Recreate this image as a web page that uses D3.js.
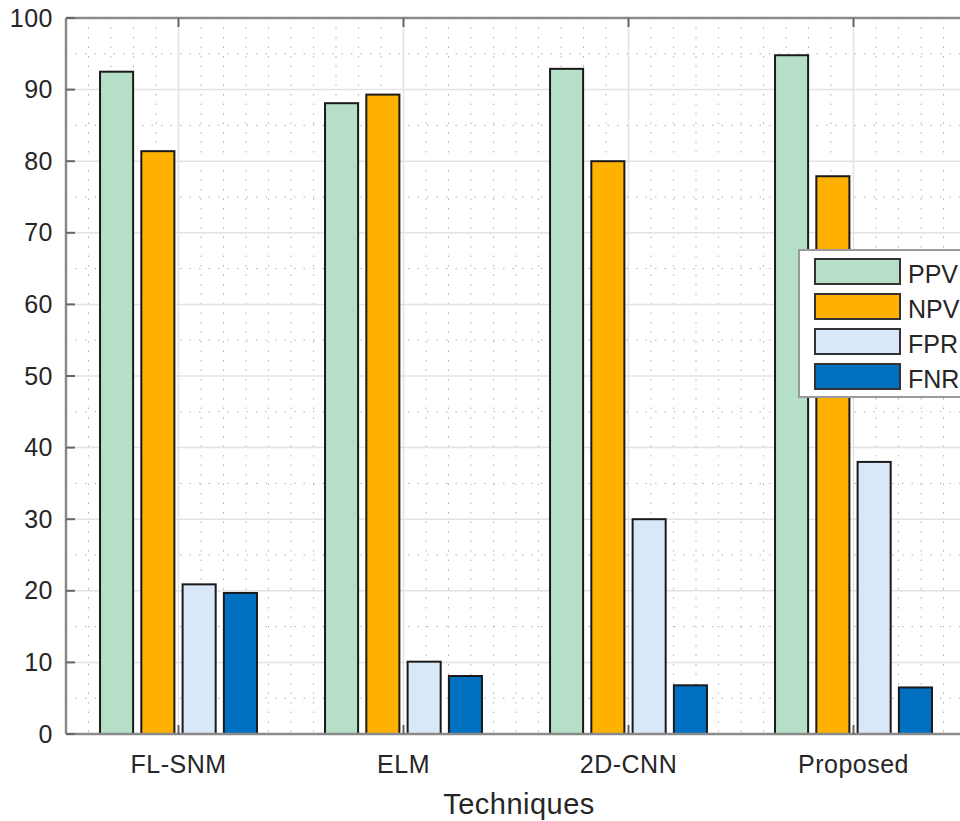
<!DOCTYPE html>
<html><head><meta charset="utf-8">
<script src="https://cdn.jsdelivr.net/npm/d3@7/dist/d3.min.js"></script>
<style>body{margin:0;background:#fff;}svg{display:block;font-family:"Liberation Sans",Arial,sans-serif;}</style>
</head><body><svg id="c" width="960" height="821"></svg>
<script>
const categories = ["FL-SNM","ELM","2D-CNN","Proposed"];
const seriesNames = ["PPV","NPV","FPR","FNR"];
const PPV = [92.5, 88.1, 92.9, 94.8];
const NPV = [81.4, 89.3, 80.0, 77.9];
const FPR = [20.9, 10.1, 30.0, 38.0];
const FNR = [19.7, 8.1, 6.8, 6.5];
const yTicks = [0,10,20,30,40,50,60,70,80,90,100];
const colors = ["#b5dfc7","#ffb100","#d8e8f8","#0070c0"];

const series = [PPV,NPV,FPR,FNR];
const svg = d3.select("#c");
const L=66, T=18, B=734, R=966;
const x = d3.scaleLinear().domain([0.5,4.5]).range([L,R]);
const y = d3.scaleLinear().domain([0,100]).range([B,T]);
const g = svg.append("g");

// minor grid
const minorX = d3.range(0.5,4.5001,0.1);
g.selectAll(".mx").data(minorX).enter().append("line")
 .attr("x1",d=>x(d)).attr("x2",d=>x(d)).attr("y1",T).attr("y2",B)
 .attr("stroke","#b0b0b0").attr("stroke-width",1).attr("stroke-dasharray","1.5,8");
const minorY = d3.range(5,100,10);
g.selectAll(".my").data(minorY).enter().append("line")
 .attr("x1",L).attr("x2",R).attr("y1",d=>y(d)).attr("y2",d=>y(d))
 .attr("stroke","#b0b0b0").attr("stroke-width",1).attr("stroke-dasharray","1.5,8");
// major grid
g.selectAll(".gy").data(yTicks.slice(1,-1)).enter().append("line")
 .attr("x1",L).attr("x2",R).attr("y1",d=>y(d)).attr("y2",d=>y(d))
 .attr("stroke","#e3e3e3").attr("stroke-width",1.5);
g.selectAll(".gx").data([1,2,3,4]).enter().append("line")
 .attr("x1",d=>x(d)).attr("x2",d=>x(d)).attr("y1",T).attr("y2",B)
 .attr("stroke","#e3e3e3").attr("stroke-width",1.5);

// bars
const step = 0.1835, bw = 0.147;
series.forEach((vals,si)=>{
  g.selectAll(".b"+si).data(vals).enter().append("rect")
   .attr("x",(d,i)=>x(i+1+(si-1.5)*step-bw/2))
   .attr("width",x(bw)-x(0))
   .attr("y",d=>y(d)).attr("height",d=>B-y(d))
   .attr("fill",colors[si]).attr("stroke","#1a1a1a").attr("stroke-width",2);
});

// axes box
g.append("line").attr("x1",L).attr("x2",R).attr("y1",B).attr("y2",B).attr("stroke","#8a8a8a").attr("stroke-width",2.5);
g.append("line").attr("x1",L).attr("x2",R).attr("y1",T).attr("y2",T).attr("stroke","#8a8a8a").attr("stroke-width",2.5);
g.append("line").attr("x1",L).attr("x2",L).attr("y1",T).attr("y2",B).attr("stroke","#8a8a8a").attr("stroke-width",2.5);
// ticks
g.selectAll(".ty").data(yTicks).enter().append("line")
 .attr("x1",L).attr("x2",L+9).attr("y1",d=>y(d)).attr("y2",d=>y(d)).attr("stroke","#666").attr("stroke-width",2);
g.selectAll(".tx").data([1,2,3,4]).enter().append("line")
 .attr("x1",d=>x(d)).attr("x2",d=>x(d)).attr("y1",B).attr("y2",B-9).attr("stroke","#666").attr("stroke-width",2);
g.selectAll(".tx2").data([1,2,3,4]).enter().append("line")
 .attr("x1",d=>x(d)).attr("x2",d=>x(d)).attr("y1",T).attr("y2",T+9).attr("stroke","#666").attr("stroke-width",2);

g.selectAll(".ly").data(yTicks).enter().append("text")
 .attr("x",L-13).attr("y",d=>y(d)+8.5).attr("text-anchor","end")
 .attr("font-size",25).attr("letter-spacing",0.5).attr("fill","#262626").text(d=>d);
g.selectAll(".lx").data(categories).enter().append("text")
 .attr("x",(d,i)=>x(i+1)).attr("y",B+39).attr("text-anchor","middle")
 .attr("font-size",25).attr("letter-spacing",0.5).attr("fill","#262626").text(d=>d);
g.append("text").attr("x",x(2.5)+3).attr("y",814).attr("text-anchor","middle")
 .attr("font-size",29).attr("letter-spacing",0.5).attr("fill","#262626").text("Techniques");

// legend
const lg = svg.append("g").attr("transform","translate(799,250)");
lg.append("rect").attr("x",0).attr("y",0).attr("width",170).attr("height",147)
 .attr("fill","#fff").attr("stroke","#9a9a9a").attr("stroke-width",2);
seriesNames.forEach((n,i)=>{
  lg.append("rect").attr("x",16).attr("y",9+i*35).attr("width",85).attr("height",25)
   .attr("fill",colors[i]).attr("stroke","#333").attr("stroke-width",2);
  lg.append("text").attr("x",109).attr("y",33+i*35).attr("font-size",25).attr("fill","#262626").text(n);
});
</script></body></html>
